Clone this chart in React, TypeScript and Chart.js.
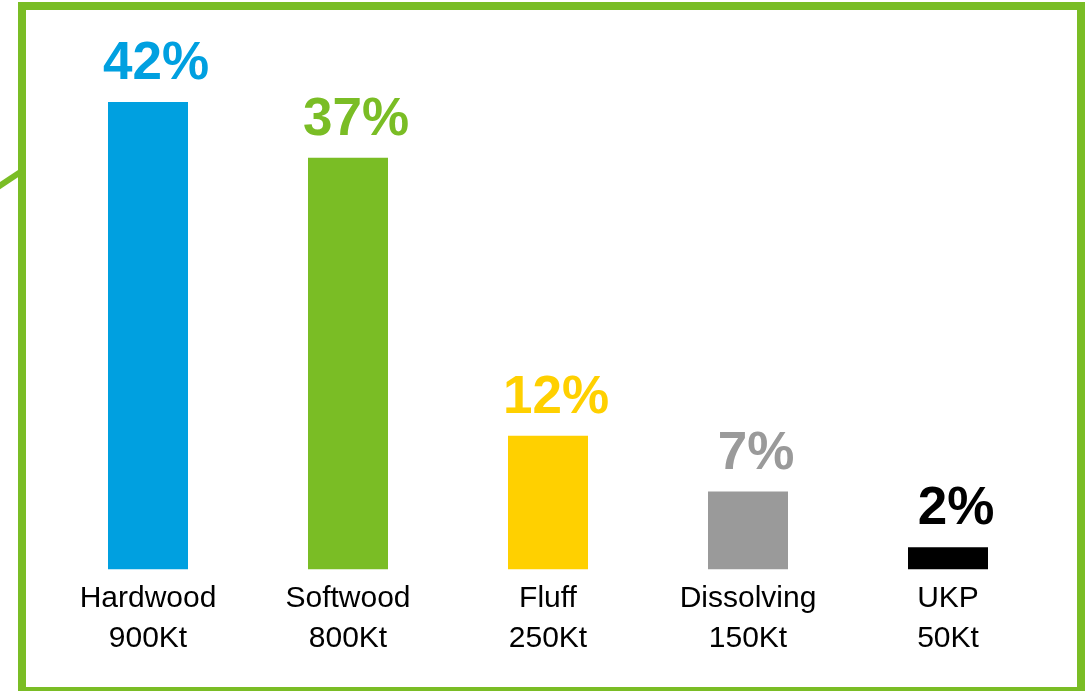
import React, { useEffect, useRef } from "react";
import { Chart, registerables } from "chart.js";

Chart.register(...registerables);

const categories: string[][] = [
  ["Hardwood", "900Kt"],
  ["Softwood", "800Kt"],
  ["Fluff", "250Kt"],
  ["Dissolving", "150Kt"],
  ["UKP", "50Kt"],
];
const shares: number[] = [42, 37, 12, 7, 2];
const shareLabels: string[] = ["42%", "37%", "12%", "7%", "2%"];
const barColors: string[] = ["#00A0E0", "#7ABD25", "#FFD000", "#9A9A9A", "#000000"];
const frameColor = "#7ABD25";

const framePlugin = {
  id: "frame",
  afterDraw(chart: any) {
    const ctx = chart.ctx;
    ctx.save();
    ctx.strokeStyle = frameColor;
    ctx.lineWidth = 8;
    ctx.strokeRect(22, 6, 1059, 685);
    ctx.lineWidth = 6;
    ctx.beginPath();
    ctx.moveTo(-2, 187);
    ctx.lineTo(22, 171);
    ctx.stroke();
    ctx.restore();
  },
};

const valueLabelPlugin = {
  id: "valueLabels",
  afterDatasetsDraw(chart: any) {
    const ctx = chart.ctx;
    const meta = chart.getDatasetMeta(0);
    ctx.save();
    ctx.font = "bold 53px 'Liberation Sans', Arial, sans-serif";
    ctx.textAlign = "center";
    ctx.textBaseline = "alphabetic";
    meta.data.forEach((bar: any, i: number) => {
      ctx.fillStyle = barColors[i];
      ctx.fillText(shareLabels[i], bar.x + 8, bar.y - 23);
    });
    ctx.restore();
  },
};

export default function App() {
  const ref = useRef<HTMLCanvasElement | null>(null);
  useEffect(() => {
    if (!ref.current) return;
    const chart = new Chart(ref.current, {
      type: "bar",
      data: {
        labels: categories,
        datasets: [
          {
            data: shares,
            backgroundColor: barColors,
            borderWidth: 0,
            barPercentage: 0.4,
            categoryPercentage: 1,
          },
        ],
      },
      options: {
        animation: false,
        responsive: false,
        maintainAspectRatio: false,
        layout: { padding: { top: 102, bottom: 31, left: 48, right: 41 } },
        plugins: { legend: { display: false }, tooltip: { enabled: false } },
        scales: {
          y: { display: false, min: 0, max: 42 },
          x: {
            grid: { display: false },
            border: { display: false },
            ticks: {
              color: "#000000",
              padding: 2,
              font: { family: "'Liberation Sans', Arial, sans-serif", size: 30, lineHeight: 1.31 },
              autoSkip: false,
              maxRotation: 0,
            },
          },
        },
      },
      plugins: [valueLabelPlugin, framePlugin],
    });
    return () => chart.destroy();
  }, []);
  return (
    <div style={{ position: "absolute", left: 0, top: 0, width: 1089, height: 691, background: "#fff" }}>
      <canvas ref={ref} width={1089} height={691} style={{ display: "block" }} />
    </div>
  );
}
